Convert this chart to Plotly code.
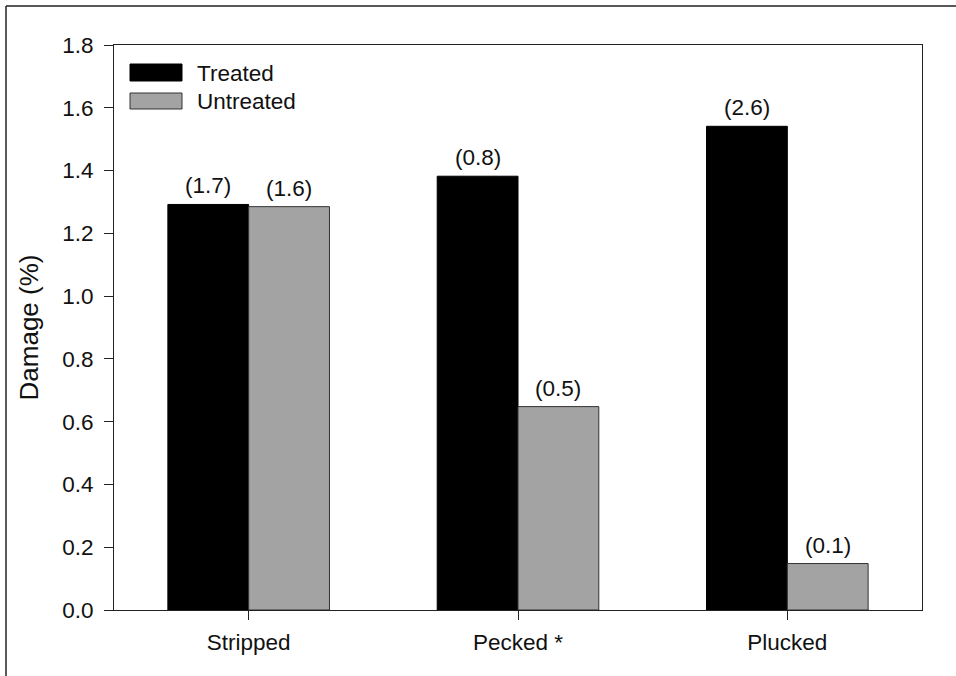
import plotly.graph_objects as go

categories = ["Stripped", "Pecked *", "Plucked"]
treated = [1.292, 1.382, 1.541]
untreated = [1.285, 0.648, 0.148]
treated_labels = ["(1.7)", "(0.8)", "(2.6)"]
untreated_labels = ["(1.6)", "(0.5)", "(0.1)"]
y_ticks = [0.0, 0.2, 0.4, 0.6, 0.8, 1.0, 1.2, 1.4, 1.6, 1.8]

W, H = 956, 676
L, R, T, B = 114, 34, 45, 66
PW, PH = W - L - R, H - T - B

def px(x):
    return (x - L) / PW

def py(y):
    return (H - B - y) / PH

FONT = "Liberation Sans, Arial, sans-serif"
FS = 22.5

fig = go.Figure()
fig.add_trace(go.Bar(name="Treated", x=categories, y=treated,
                     marker=dict(color="#000000", line=dict(color="#000000", width=1)),
                     offsetgroup="t"))
fig.add_trace(go.Bar(name="Untreated", x=categories, y=untreated,
                     marker=dict(color="#a3a3a3", line=dict(color="#333333", width=1)),
                     offsetgroup="u"))

annotations = []
for i, c in enumerate(categories):
    annotations.append(dict(x=i - 0.15, y=treated[i], xref="x", yref="y", text=treated_labels[i],
                            showarrow=False, yanchor="bottom", yshift=4,
                            font=dict(family=FONT, size=FS, color="#111")))
    annotations.append(dict(x=i + 0.15, y=untreated[i], xref="x", yref="y", text=untreated_labels[i],
                            showarrow=False, yanchor="bottom", yshift=4,
                            font=dict(family=FONT, size=FS, color="#111")))

# custom legend
shapes = [
    dict(type="rect", xref="paper", yref="paper", x0=px(130), x1=px(182), y0=py(81), y1=py(64),
         fillcolor="#000000", line=dict(color="#000000", width=1)),
    dict(type="rect", xref="paper", yref="paper", x0=px(130), x1=px(182), y0=py(109), y1=py(93),
         fillcolor="#a3a3a3", line=dict(color="#333333", width=1)),
    # outer frame (left and top)
    dict(type="line", xref="paper", yref="paper", x0=px(6), x1=px(6), y0=py(6), y1=py(690),
         line=dict(color="#222", width=1.5)),
    dict(type="line", xref="paper", yref="paper", x0=px(6), x1=px(970), y0=py(6), y1=py(6),
         line=dict(color="#222", width=1.5)),
]
annotations.append(dict(x=px(195), y=py(73), xref="paper", yref="paper", text="Treated",
                        showarrow=False, xanchor="left", yanchor="middle",
                        font=dict(family=FONT, size=FS, color="#111")))
annotations.append(dict(x=px(195), y=py(101), xref="paper", yref="paper", text="Untreated",
                        showarrow=False, xanchor="left", yanchor="middle",
                        font=dict(family=FONT, size=FS, color="#111")))

fig.update_layout(
    width=W, height=H,
    margin=dict(l=L, r=R, t=T, b=B),
    paper_bgcolor="white", plot_bgcolor="white",
    barmode="group", bargap=0.4, bargroupgap=0,
    showlegend=False,
    font=dict(family=FONT, size=FS, color="#111"),
    shapes=shapes, annotations=annotations,
)
fig.update_xaxes(range=[-0.5, 2.5], showline=True, linecolor="#222", linewidth=1, mirror=True,
                 ticks="outside", ticklen=9, tickcolor="#222", showgrid=False, zeroline=False,
                 ticklabelstandoff=3,
                 tickfont=dict(family=FONT, size=FS, color="#111"))
fig.update_yaxes(range=[0, 1.8], tickvals=y_ticks, ticktext=[f"{v:.1f}" for v in y_ticks],
                 showline=True, linecolor="#222", linewidth=1, mirror=True,
                 ticks="outside", ticklen=9, tickcolor="#222", showgrid=False, zeroline=False,
                 ticklabelstandoff=6,
                 tickfont=dict(family=FONT, size=FS, color="#111"),
                 title=dict(text="Damage (%)", font=dict(family=FONT, size=26, color="#111"), standoff=16))

fig.write_html("out.html", config={"displayModeBar": False},
               post_script="document.body.style.margin='0';")
